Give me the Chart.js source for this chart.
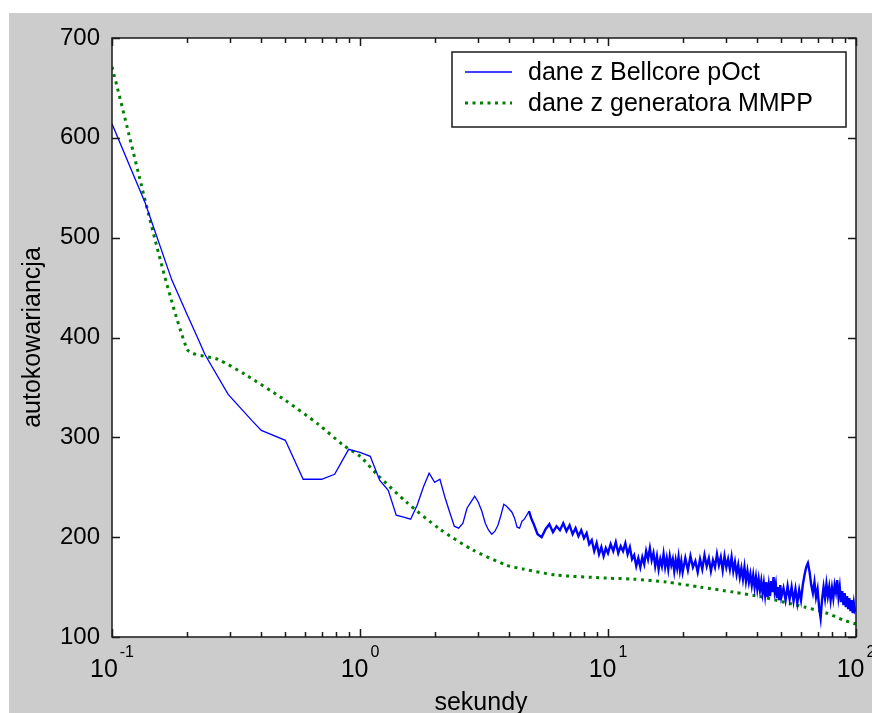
<!DOCTYPE html>
<html>
<head>
<meta charset="utf-8">
<script src="https://cdn.jsdelivr.net/npm/chart.js@4/dist/chart.umd.min.js"></script>
<style>
  html, body { margin: 0; padding: 0; background: #fff; }
  #wrap { position: relative; width: 872px; height: 713px; }
</style>
</head>
<body>
<div id="wrap"><canvas id="c" width="872" height="713"></canvas></div>
<script>
// ---------- data ----------
const seriesNames = ['dane z Bellcore pOct', 'dane z generatora MMPP'];
const xTitle = 'sekundy';
const yTitle = 'autokowariancja';

const yTicks = [100, 200, 300, 400, 500, 600, 700];
const xTicks = [0.1, 1, 10, 100];
const xTickBase = ['10', '10', '10', '10'];
const xTickExp = ['-1', '0', '1', '2'];

const blueX = [
  0.1, 0.136, 0.174, 0.2, 0.223, 0.237, 0.294, 0.366, 0.4, 0.5,
  0.59, 0.7, 0.79, 0.9, 1.0, 1.1, 1.2, 1.3, 1.4, 1.5,
  1.6, 1.7, 1.8, 1.9, 2.0, 2.1, 2.2, 2.3, 2.4, 2.5,
  2.6, 2.7, 2.8, 2.9, 3.0, 3.1, 3.2, 3.3, 3.4, 3.5,
  3.6, 3.7, 3.8, 3.9, 4.0, 4.1, 4.2, 4.3, 4.4, 4.5,
  4.6, 4.7, 4.8, 4.9,
  5.0, 5.2, 5.4, 5.6, 5.8, 6.0, 6.2, 6.4, 6.6, 6.8,
  7.0, 7.2, 7.4, 7.6, 7.8, 8.0, 8.2, 8.4, 8.6, 8.8,
  9.0, 9.2, 9.4, 9.6, 9.8,
  10.0, 10.25, 10.5, 10.75, 11.0, 11.25, 11.5, 11.75, 12.0, 12.25,
  12.5, 12.75, 13.0, 13.25, 13.5, 13.75, 14.0, 14.25, 14.5, 14.75,
  15.0, 15.25, 15.5, 15.75, 16.0, 16.25, 16.5, 16.75, 17.0, 17.25,
  17.5, 17.75, 18.0, 18.25, 18.5, 18.75, 19.0, 19.25, 19.5, 19.75,
  20.0, 20.5, 21.0, 21.5, 22.0, 22.5, 23.0, 23.5, 24.0, 24.5,
  25.0, 25.5, 26.0, 26.5, 27.0, 27.5, 28.0, 28.5, 29.0, 29.5,
  30.0, 30.5, 31.0, 31.5, 32.0, 32.5, 33.0, 33.5, 34.0, 34.5,
  35.0, 35.5, 36.0, 36.5, 37.0, 37.5, 38.0, 38.5, 39.0, 39.5,
  40.0, 40.5, 41.0, 41.5, 42.0, 42.5, 43.0, 43.5, 44.0, 44.5,
  45.0, 45.5, 46.0, 46.5, 47.0, 47.5, 48.0, 48.5, 49.0, 49.5,
  50, 51, 52, 53, 54, 55, 56, 57, 58, 59,
  60, 61, 62, 63, 64, 65, 66, 67, 68, 69,
  70, 71, 72, 73, 74, 75, 76, 77, 78, 79,
  80, 81, 82, 83, 84, 85, 86, 87, 88, 89,
  90, 91, 92, 93, 94, 95, 96, 97, 98, 99, 100
];
const blueY = [
  614, 535, 458, 424, 398, 383, 343, 317, 307, 297,
  258, 258, 263, 288, 285, 281, 257, 247, 222, 220,
  218, 232, 250, 264, 255, 258, 240, 225, 211, 209,
  214, 229, 235, 241, 235, 226, 214, 207, 203, 206,
  212, 222, 233, 231, 228, 225, 219, 210, 209, 216,
  218, 222, 226, 219,
  214, 203, 200, 208, 213, 205, 211, 207, 214, 206,
  212, 203, 209, 201, 207, 199, 204, 193, 197, 186,
  194, 183, 190, 181, 189,
  184, 193, 186, 195, 184, 191, 186, 194, 183, 190,
  178, 182, 171, 179, 170, 180, 173, 186, 178, 189,
  177, 184, 171, 181, 168, 178, 171, 183, 170, 179,
  168, 181, 172, 178, 166, 177, 169, 180, 167, 176,
  165, 179, 167, 181, 170, 176, 165, 178, 168, 182,
  171, 179, 166, 177, 170, 183, 172, 180, 167, 181,
  170, 178, 168, 180, 166, 175, 163, 172, 160, 169,
  158, 170, 156, 166, 155, 163, 152, 162, 150, 160,
  148, 158, 147, 156, 144, 154, 142, 155, 140, 152,
  141, 156, 145, 160, 146, 153, 139, 150, 137, 152,
  140, 149, 137, 151, 138, 150, 136, 148, 134, 147,
  137, 152, 162, 170, 174, 165, 152, 144, 155, 140,
  148, 130, 119, 138, 150, 139, 153, 141, 150, 137,
  149, 139, 152, 145, 157, 140, 150, 135, 146, 132,
  144, 130, 141, 128, 139, 126, 137, 124, 134, 126, 128
];

const greenX = [
  0.1, 0.2, 0.268, 0.344, 0.5, 0.68, 0.857, 1.0, 1.17, 1.54,
  2.1, 2.86, 3.9, 4.56, 6.21, 9.9, 12.6, 17.2, 23.5, 32,
  42, 51, 62, 76, 89, 100
];
const greenY = [
  671, 389, 378, 363, 337, 313, 292, 281, 263, 235,
  208, 187, 172, 168, 162, 159, 158, 155, 150, 145,
  140, 135, 130, 124, 117, 113
];

// ---------- drawing ----------
const FONT = "'Liberation Sans', Arial, Helvetica, sans-serif";
const BLUE = '#0000ff';
const GREEN = '#008000';
const AXIS = '#1a1a1a';

const decor = {
  id: 'decor',
  beforeDraw(chart) {
    const { ctx, width, height, chartArea: a } = chart;
    ctx.save();
    ctx.fillStyle = '#ffffff';
    ctx.fillRect(0, 0, width, height);
    ctx.fillStyle = '#cccccc';
    ctx.fillRect(9, 13, width - 9, height - 13);
    ctx.fillStyle = '#ffffff';
    ctx.fillRect(a.left, a.top, a.right - a.left, a.bottom - a.top);
    ctx.restore();
  },
  afterDraw(chart) {
    const { ctx, chartArea: a, scales } = chart;
    const xs = scales.x, ys = scales.y;
    ctx.save();
    ctx.strokeStyle = AXIS;
    ctx.lineWidth = 1.5;
    ctx.strokeRect(a.left, a.top, a.right - a.left, a.bottom - a.top);

    // y ticks, inward on left and right
    ctx.beginPath();
    yTicks.forEach(v => {
      const py = Math.round(ys.getPixelForValue(v)) + 0.5;
      ctx.moveTo(a.left, py); ctx.lineTo(a.left + 8, py);
      ctx.moveTo(a.right, py); ctx.lineTo(a.right - 8, py);
    });
    // x major + minor ticks, inward on bottom and top
    xTicks.forEach((b, i) => {
      const px = Math.round(xs.getPixelForValue(b)) + 0.5;
      ctx.moveTo(px, a.bottom); ctx.lineTo(px, a.bottom - 8);
      ctx.moveTo(px, a.top); ctx.lineTo(px, a.top + 8);
      if (i < xTicks.length - 1) {
        for (let d = 2; d <= 9; d++) {
          const qx = Math.round(xs.getPixelForValue(b * d)) + 0.5;
          ctx.moveTo(qx, a.bottom); ctx.lineTo(qx, a.bottom - 5);
          ctx.moveTo(qx, a.top); ctx.lineTo(qx, a.top + 5);
        }
      }
    });
    ctx.stroke();

    // x tick labels 10^k
    ctx.fillStyle = '#000';
    ctx.textBaseline = 'alphabetic';
    ctx.textAlign = 'left';
    xTicks.forEach((b, i) => {
      const px = xs.getPixelForValue(b);
      ctx.font = '25px ' + FONT;
      const wb = ctx.measureText(xTickBase[i]).width;
      ctx.font = '16px ' + FONT;
      const we = ctx.measureText(xTickExp[i]).width;
      const start = px - (wb + 2 + we) / 2;
      ctx.font = '25px ' + FONT;
      ctx.fillText(xTickBase[i], start, 677);
      ctx.font = '16px ' + FONT;
      ctx.fillText(xTickExp[i], start + wb + 2, 657);
    });

    // x title
    ctx.font = '25px ' + FONT;
    ctx.textAlign = 'center';
    ctx.fillText(xTitle, (a.left + a.right) / 2 - 3, 710);

    // legend
    const L = { x: 452, y: 52, w: 394, h: 75 };
    ctx.fillStyle = '#ffffff';
    ctx.fillRect(L.x, L.y, L.w, L.h);
    ctx.strokeStyle = AXIS;
    ctx.lineWidth = 1.5;
    ctx.strokeRect(L.x, L.y, L.w, L.h);
    const rows = [72, 103];
    chart.data.datasets.forEach((ds, i) => {
      const y = rows[i];
      ctx.save();
      ctx.strokeStyle = ds.borderColor;
      ctx.lineWidth = i === 0 ? 1.3 : ds.borderWidth;
      ctx.setLineDash(ds.borderDash || []);
      ctx.beginPath();
      ctx.moveTo(465, y); ctx.lineTo(512, y);
      ctx.stroke();
      ctx.restore();
      ctx.fillStyle = '#000';
      ctx.font = '25px ' + FONT;
      ctx.textAlign = 'left';
      ctx.textBaseline = 'middle';
      ctx.fillText(ds.label, 528, y + 1);
    });
    ctx.restore();
  }
};

new Chart(document.getElementById('c'), {
  type: 'line',
  data: {
    datasets: [
      {
        label: seriesNames[0],
        data: blueX.map((x, i) => ({ x: x, y: blueY[i] })),
        borderColor: BLUE,
        borderWidth: 1.3,
        segment: {
          borderWidth: c => (c.p0.parsed.x >= 4.8 ? 2.4 : 1.3)
        },
        pointRadius: 0,
        tension: 0,
        fill: false
      },
      {
        label: seriesNames[1],
        data: greenX.map((x, i) => ({ x: x, y: greenY[i] })),
        borderColor: GREEN,
        borderWidth: 3,
        borderDash: [3, 4.5],
        borderCapStyle: 'butt',
        pointRadius: 0,
        tension: 0.25,
        fill: false
      }
    ]
  },
  options: {
    responsive: false,
    animation: false,
    events: [],
    layout: { padding: { left: 0, top: 38, right: 16, bottom: 0 } },
    plugins: { legend: { display: false }, tooltip: { enabled: false } },
    scales: {
      x: {
        type: 'logarithmic',
        min: 0.1, max: 100,
        ticks: { display: false },
        grid: { display: false },
        border: { display: false },
        afterFit(s) { s.height = 76; }
      },
      y: {
        type: 'linear',
        min: 100, max: 700,
        afterBuildTicks(s) { s.ticks = yTicks.map(v => ({ value: v })); },
        ticks: {
          color: '#000',
          font: { family: FONT, size: 24 },
          padding: 12
        },
        grid: { display: false, drawTicks: false },
        border: { display: false },
        title: {
          display: true,
          text: yTitle,
          color: '#000',
          font: { family: FONT, size: 25 },
          padding: { top: 18, bottom: 0 }
        },
        afterFit(s) { s.width = 112; }
      }
    }
  },
  plugins: [decor]
});
</script>
</body>
</html>
